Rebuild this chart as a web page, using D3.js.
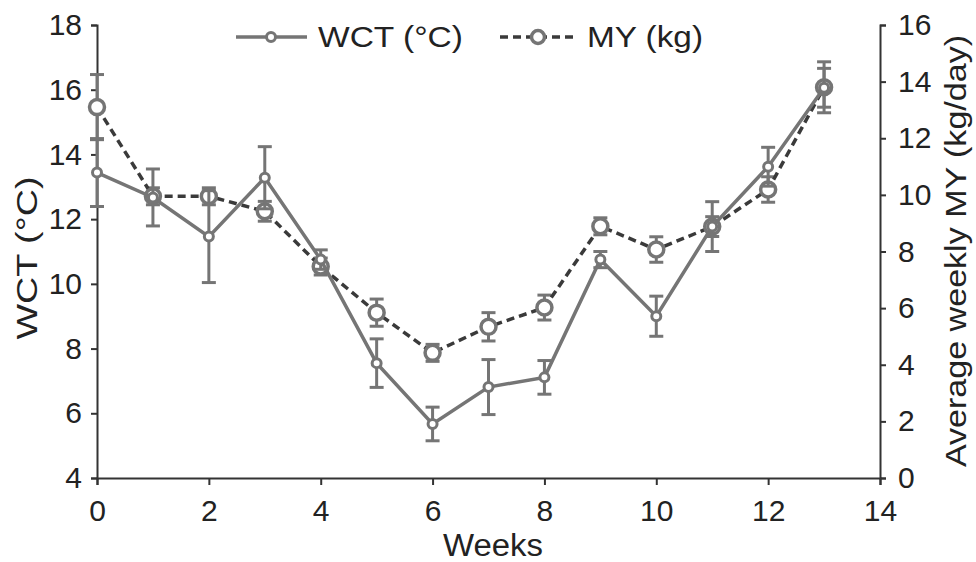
<!DOCTYPE html>
<html>
<head>
<meta charset="utf-8">
<script src="https://cdn.jsdelivr.net/npm/d3@7"></script>
<style>
  body { margin: 0; background: #fff; }
  text { font-family: "Liberation Sans", Arial, sans-serif; fill: #222; }
</style>
</head>
<body>
<div id="chart"></div>
<script>
// data
var weeks = [0, 1, 2, 3, 4, 5, 6, 7, 8, 9, 10, 11, 12, 13];
var wct = [13.44, 12.67, 11.46, 13.28, 10.75, 7.55, 5.67, 6.81, 7.11, 10.75, 9.0, 11.77, 13.62, 16.06];
var wctErr = [1.05, 0.88, 1.42, 0.96, 0.3, 0.75, 0.52, 0.85, 0.52, 0.25, 0.62, 0.77, 0.6, 0.6];
var my = [13.1, 9.95, 9.95, 9.42, 7.47, 5.84, 4.42, 5.34, 6.02, 8.89, 8.07, 8.88, 10.19, 13.8];
var myErr = [1.15, 0.3, 0.3, 0.35, 0.3, 0.48, 0.3, 0.5, 0.44, 0.3, 0.45, 0.35, 0.45, 0.9];
var xTicks = [0, 2, 4, 6, 8, 10, 12, 14];
var leftTicks = [4, 6, 8, 10, 12, 14, 16, 18];
var rightTicks = [0, 2, 4, 6, 8, 10, 12, 14, 16];

var svgWidth = 976;
var svgHeight = 562;
var margin = { top: 25, right: 96, bottom: 84, left: 97 };
var width = svgWidth - margin.left - margin.right;
var height = svgHeight - margin.top - margin.bottom;

var svg = d3.select("#chart").append("svg")
  .attr("width", svgWidth)
  .attr("height", svgHeight);

var g = svg.append("g")
  .attr("transform", `translate(${margin.left}, ${margin.top})`);

var x = d3.scaleLinear().domain([0, 14]).range([0, width]);
var yL = d3.scaleLinear().domain([4, 18]).range([height, 0]);
var yR = d3.scaleLinear().domain([0, 16]).range([height, 0]);

var axisColor = "#333";
var lineGrey = "#757575";
var dashColor = "#3a3a3a";
var fontSize = "30px";

function styleAxis(sel) {
  sel.select(".domain").attr("stroke", axisColor).attr("stroke-width", 2);
  sel.selectAll(".tick line").attr("stroke", axisColor).attr("stroke-width", 2);
  sel.selectAll(".tick text").style("font-size", fontSize).attr("fill", "#222");
}

// axes
g.append("g")
  .attr("transform", `translate(0, ${height})`)
  .call(d3.axisBottom(x).tickValues(xTicks).tickSizeOuter(0).tickSize(7).tickPadding(15))
  .call(styleAxis);

g.append("g")
  .call(d3.axisLeft(yL).tickValues(leftTicks).tickSizeOuter(0).tickSize(6).tickPadding(9))
  .call(styleAxis);

g.append("g")
  .attr("transform", `translate(${width}, 0)`)
  .call(d3.axisRight(yR).tickValues(rightTicks).tickSizeOuter(0).tickSize(6).tickPadding(12))
  .call(styleAxis);

// axis titles (the original lettering runs a little wide, so fix lengths)
svg.append("text")
  .attr("x", 493)
  .attr("y", 556)
  .attr("text-anchor", "middle")
  .attr("textLength", 100)
  .attr("lengthAdjust", "spacingAndGlyphs")
  .style("font-size", "31px")
  .text("Weeks");

svg.append("text")
  .attr("transform", "translate(37, 258) rotate(-90)")
  .attr("text-anchor", "middle")
  .attr("textLength", 163)
  .attr("lengthAdjust", "spacingAndGlyphs")
  .style("font-size", "29px")
  .text("WCT (°C)");

svg.append("text")
  .attr("transform", "translate(966, 251) rotate(-90)")
  .attr("text-anchor", "middle")
  .attr("textLength", 432)
  .attr("lengthAdjust", "spacingAndGlyphs")
  .style("font-size", "29px")
  .text("Average weekly MY (kg/day)");

// series data
var myData = weeks.map((w, i) => ({ w: w, v: my[i], e: myErr[i] }));
var wctData = weeks.map((w, i) => ({ w: w, v: wct[i], e: wctErr[i] }));

function drawErrors(data, yScale) {
  var eg = g.append("g");
  var cap = 7;
  data.forEach(function(d) {
    var cx = x(d.w);
    var top = yScale(d.v + d.e);
    var bot = yScale(d.v - d.e);
    eg.append("line").attr("x1", cx).attr("x2", cx).attr("y1", top).attr("y2", bot)
      .attr("stroke", lineGrey).attr("stroke-width", 3);
    [top, bot].forEach(function(yy) {
      eg.append("line").attr("x1", cx - cap).attr("x2", cx + cap).attr("y1", yy).attr("y2", yy)
        .attr("stroke", lineGrey).attr("stroke-width", 3);
    });
  });
}

// MY series (right axis, dashed)
drawErrors(myData, yR);
var myLine = d3.line().x(d => x(d.w)).y(d => yR(d.v));
g.append("path")
  .datum(myData)
  .attr("d", myLine)
  .attr("fill", "none")
  .attr("stroke", dashColor)
  .attr("stroke-width", 3.5)
  .attr("stroke-dasharray", "8,5");
g.selectAll(".myDot")
  .data(myData)
  .enter()
  .append("circle")
  .attr("cx", d => x(d.w))
  .attr("cy", d => yR(d.v))
  .attr("r", 7.5)
  .attr("fill", "#fff")
  .attr("stroke", lineGrey)
  .attr("stroke-width", 3.5);

// WCT series (left axis, solid)
drawErrors(wctData, yL);
var wctLine = d3.line().x(d => x(d.w)).y(d => yL(d.v));
g.append("path")
  .datum(wctData)
  .attr("d", wctLine)
  .attr("fill", "none")
  .attr("stroke", lineGrey)
  .attr("stroke-width", 3.5);
g.selectAll(".wctDot")
  .data(wctData)
  .enter()
  .append("circle")
  .attr("cx", d => x(d.w))
  .attr("cy", d => yL(d.v))
  .attr("r", 4.5)
  .attr("fill", "#fff")
  .attr("stroke", lineGrey)
  .attr("stroke-width", 3);

// legend
var legend = svg.append("g");
legend.append("line").attr("x1", 236).attr("x2", 307).attr("y1", 37).attr("y2", 37)
  .attr("stroke", lineGrey).attr("stroke-width", 3.5);
legend.append("circle").attr("cx", 271).attr("cy", 37).attr("r", 4.5)
  .attr("fill", "#fff").attr("stroke", lineGrey).attr("stroke-width", 3);
legend.append("text").attr("x", 318).attr("y", 47)
  .attr("textLength", 145).attr("lengthAdjust", "spacingAndGlyphs")
  .style("font-size", "30px").text("WCT (°C)");

legend.append("line").attr("x1", 500).attr("x2", 577).attr("y1", 37).attr("y2", 37)
  .attr("stroke", dashColor).attr("stroke-width", 3.5).attr("stroke-dasharray", "8,5");
legend.append("circle").attr("cx", 538).attr("cy", 37).attr("r", 6.5)
  .attr("fill", "#fff").attr("stroke", lineGrey).attr("stroke-width", 3.5);
legend.append("text").attr("x", 587).attr("y", 47)
  .attr("textLength", 116).attr("lengthAdjust", "spacingAndGlyphs")
  .style("font-size", "30px").text("MY (kg)");
</script>
</body>
</html>
